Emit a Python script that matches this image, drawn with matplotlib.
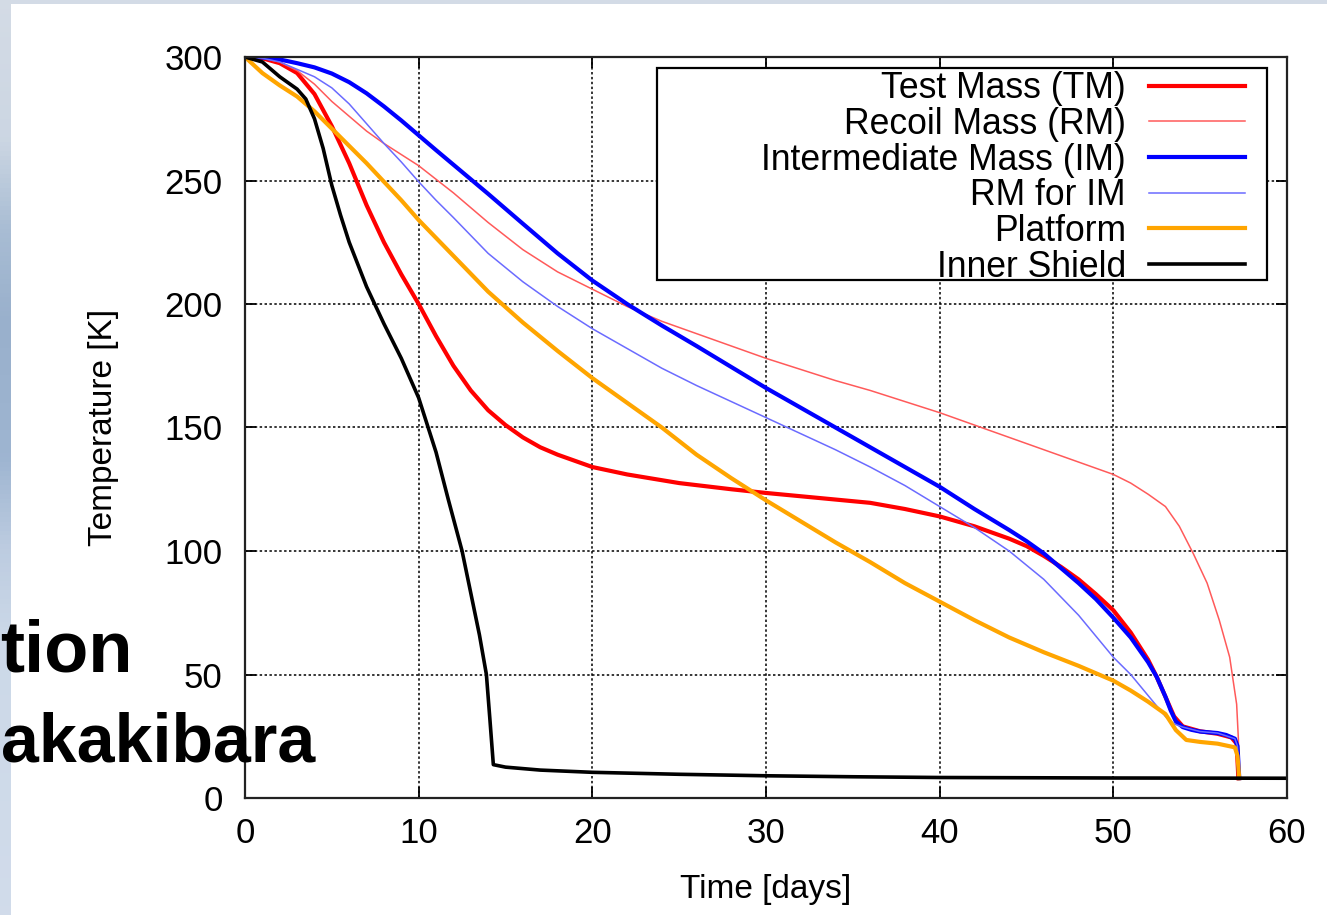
import matplotlib
matplotlib.use("Agg")
import matplotlib.pyplot as plt
import numpy as np
from matplotlib.patches import Rectangle

plt.rcParams['font.family'] = ['Liberation Sans', 'DejaVu Sans']

# ---------------- data ----------------
tm_t = [0, 1, 2, 3, 4, 5, 6, 7, 8, 9, 10, 11, 12, 13, 14, 15, 16, 17, 18, 20, 22, 25, 28, 30, 33, 36, 38,
        40, 42, 44, 45, 46, 47, 48, 49, 50, 51, 52, 52.5, 53, 53.5, 54, 55, 56, 56.8, 57.1, 57.2]
tm_T = [300, 299.5, 297.5, 293.5, 285, 272, 257, 240, 225, 212, 200, 187, 175, 165, 157, 151, 146, 142, 139,
        134, 131, 127.5, 125, 123.5, 121.5, 119.5, 117, 114, 110, 105, 102, 98, 93.5, 88.5, 82.5, 76, 67, 56,
        49, 41, 33, 29, 27, 26, 24.5, 22, 8]

rm_t = [0, 1, 2, 3, 4, 5, 6, 7, 8, 9, 10, 12, 14, 16, 18, 20, 22, 24, 26, 28, 30, 32, 34, 36, 38, 40, 42,
        44, 46, 48, 50, 51, 52, 53, 53.8, 54.6, 55.4, 56.1, 56.7, 57.1, 57.2, 57.25]
rm_T = [300, 299.5, 298, 294.5, 289, 282, 276, 270, 265, 260.5, 256, 245, 233, 222, 213, 206, 199, 193, 188,
        183, 178, 173.5, 169, 165, 160.5, 156, 151, 146, 141, 136, 131, 127.5, 123, 118, 110, 99, 87, 72, 57,
        38, 24, 8]

im_t = [0, 1, 2, 3, 4, 5, 6, 7, 8, 9, 10, 11, 12, 14, 16, 18, 20, 22, 24, 26, 28, 30, 32, 34, 36, 38, 40, 42,
        44, 45, 46, 47, 48, 49, 50, 51, 52, 52.5, 53, 53.3, 53.6, 54, 54.5, 55, 56, 56.5, 57, 57.15, 57.25]
im_T = [300, 299.8, 299, 297.5, 295.8, 293.3, 289.8, 285.3, 280, 274.3, 268.3, 262.3, 256.4, 244.6, 232.5,
        220.5, 209.5, 200, 191.3, 183, 174.5, 166, 158, 150, 142, 134, 126, 117, 108.5, 104, 99, 93, 87, 80.5,
        73, 65, 55, 49, 41, 35.5, 31, 28.7, 27.6, 26.9, 26.3, 25.5, 24, 21, 8]

rmim_t = [0, 1, 2, 3, 4, 5, 6, 7, 8, 9, 10, 11, 12, 14, 16, 18, 20, 22, 24, 26, 28, 30, 32, 34, 36, 38, 40,
          42, 44, 46, 48, 50, 51, 52, 53, 53.5, 54, 55, 56, 57, 57.15, 57.25]
rmim_T = [300, 299.5, 298, 295, 292, 287.5, 281, 273, 265, 257.5, 249.5, 242, 235, 220.5, 209, 199, 190, 182,
          174, 167, 160.5, 154, 147.5, 141, 134, 126.5, 118, 109.5, 100, 88.5, 74, 57, 50, 41.5, 33, 30,
          28.7, 26.9, 26.3, 24, 21, 8]

pf_t = [0, 1, 2, 3, 4, 5, 6, 7, 8, 9, 10, 12, 14, 16, 18, 20, 22, 24, 26, 28, 30, 32, 34, 36, 38, 40, 42,
        44, 46, 48, 50, 51, 52, 53, 53.6, 54.2, 55, 56, 57, 57.15, 57.25]
pf_T = [300, 293.5, 288.5, 284, 278, 271, 264, 257, 249.5, 242, 234, 219.5, 205, 192.5, 181, 170, 160, 150,
        139, 129.5, 120.5, 112, 103.5, 95.5, 87, 79.5, 72, 65, 59, 53.5, 47.5, 43.5, 39, 34, 27.5, 23.5,
        22.7, 22, 20.5, 17, 8]

is_t = [0, 1, 2, 3, 3.5, 4, 4.5, 5, 5.5, 6, 7, 8, 9, 10, 11, 11.7, 12.5, 13, 13.5, 13.9, 14.1, 14.3, 15,
        17, 20, 25, 30, 35, 40, 50, 60]
is_T = [300, 298, 292, 287, 283, 275, 263, 248, 236, 225, 207, 192, 178, 162, 140, 121, 100, 83, 66, 50,
        32, 13.5, 12.5, 11.3, 10.4, 9.6, 9, 8.6, 8.3, 8.1, 8]

labels = ["Test Mass (TM)", "Recoil Mass (RM)", "Intermediate Mass (IM)", "RM for IM", "Platform",
          "Inner Shield"]
colors = ["#ff0000", "#ff5a5a", "#0000ff", "#6b6bff", "#ffa500", "#000000"]
widths = [3.0, 1.1, 3.0, 1.1, 3.0, 2.6]

x_ticks = [0, 10, 20, 30, 40, 50, 60]
y_ticks = [0, 50, 100, 150, 200, 250, 300]

# ---------------- figure ----------------
fig = plt.figure(figsize=(13.27, 9.15), dpi=100)
fig.patch.set_facecolor('white')

# slide background strips (top and left)
fig.add_artist(Rectangle((0, 1 - 4 / 915), 1, 4 / 915, transform=fig.transFigure,
                         facecolor='#d3dbe6', edgecolor='none', zorder=-10))
strip = fig.add_axes([0, 0, 11 / 1327, 1], zorder=-5)
strip.axis('off')
grad_pos = [0.0, 0.15, 0.25, 0.35, 0.5, 0.6, 0.7, 1.0]
grad_col = np.array([[0.83, 0.86, 0.90], [0.80, 0.84, 0.89], [0.66, 0.74, 0.83], [0.60, 0.69, 0.80],
                     [0.62, 0.71, 0.82], [0.74, 0.80, 0.88], [0.80, 0.85, 0.91], [0.82, 0.86, 0.92]])
yy = np.linspace(0, 1, 200)
img = np.stack([np.interp(yy, grad_pos, grad_col[:, c]) for c in range(3)], axis=-1)[:, None, :]
strip.imshow(img, aspect='auto', extent=[0, 1, 1, 0])
strip.set_xlim(0, 1)
strip.set_ylim(1, 0)

ax = fig.add_axes([245 / 1327, 1 - 798 / 915, (1287 - 245) / 1327, (798 - 57) / 915])

series = [(tm_t, tm_T), (rm_t, rm_T), (im_t, im_T), (rmim_t, rmim_T), (pf_t, pf_T), (is_t, is_T)]
handles = []
for (t, T), lab, c, w in zip(series, labels, colors, widths):
    h, = ax.plot(t, T, color=c, lw=w, label=lab, solid_joinstyle='round', zorder=2)
    handles.append(h)

ax.set_xlim(0, 60)
ax.set_ylim(0, 300)
ax.set_xticks(x_ticks)
ax.set_yticks(y_ticks)
ax.grid(True, color='black', linestyle=(0, (1.6, 1.6)), linewidth=1.1)
ax.tick_params(direction='in', top=True, right=True, length=8, width=1.3, labelsize=25, colors='black')
ax.tick_params(axis='x', pad=14)
ax.tick_params(axis='y', pad=16)
for s in ax.spines.values():
    s.set_linewidth(1.6)
    s.set_color('#222222')

ax.set_xlabel("Time [days]", fontsize=24, labelpad=17)
ax.set_ylabel("Temperature [K]", fontsize=24, labelpad=33)

# legend box (gnuplot style)
ax.add_patch(Rectangle((0.3954, 0.699), 0.5854, 0.2861, transform=ax.transAxes, facecolor='white',
                       edgecolor='black', lw=1.6, zorder=4))
leg = ax.legend(handles=handles, loc='upper right', bbox_to_anchor=(0.9597, 0.981), frameon=False,
                markerfirst=False, fontsize=25.6, labelspacing=0.02, handlelength=2.7, handletextpad=0.65,
                borderpad=0, borderaxespad=0)
leg.set_zorder(5)

# slide overlay text (partly hidden behind the chart image in the original slide)
fig.text(0 / 1327, 1 - 672 / 915, "tion", ha='left', va='baseline', fontsize=52,
         fontweight='bold', color='black', zorder=6)
fig.text(1 / 1327, 1 - 762 / 915, "akakibara", ha='left', va='baseline', fontsize=49,
         fontweight='bold', color='black', zorder=6)

fig.savefig("out.png", dpi=100, facecolor=fig.get_facecolor())
